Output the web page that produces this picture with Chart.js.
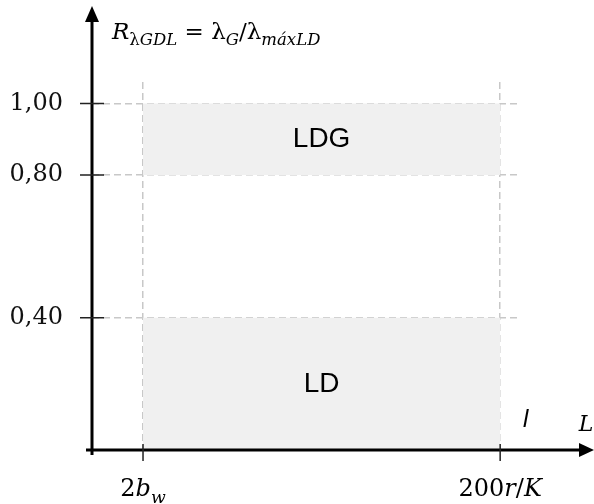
<!DOCTYPE html>
<html>
<head>
<meta charset="utf-8">
<script src="https://cdn.jsdelivr.net/npm/chart.js@4.4.1/dist/chart.umd.min.js"></script>
<style>
  html, body { margin: 0; padding: 0; background: #fff; }
  #wrap { width: 594px; height: 504px; }
</style>
</head>
<body>
<div id="wrap"><canvas id="chart" width="594" height="504"></canvas></div>
<script>
// chart values
const xTickValues = [1, 8];
const xTickLabels = ['2b_{w}', '200r/K'];
const yTickValues = [0.40, 0.80, 1.00];
const yTickLabels = ['0,40', '0,80', '1,00'];
const regionX = [1, 8];
const ldTop = [0.40, 0.40];
const ldgBottom = [0.80, 0.80];
const ldgTop = [1.00, 1.00];
const regionNames = ['LD', 'LDG'];
const yAxisTitle = 'R_{λGDL} = λ_{G}/λ_{máxLD}';
const xAxisTitle = 'L';
const zoneLabel = 'l';

const MATH_FONT = '"DejaVu Serif", serif';
const SANS_FONT = '"Liberation Sans", Arial, sans-serif';

// draws a tiny math string: letters italic, _{..} as subscript
function drawMath(ctx, str, x, y, size, align) {
  const parts = [];
  let i = 0;
  while (i < str.length) {
    if (str[i] === '_' && str[i + 1] === '{') {
      const j = str.indexOf('}', i);
      for (const ch of str.slice(i + 2, j)) parts.push({ ch, sub: true });
      i = j + 1;
    } else {
      parts.push({ ch: str[i], sub: false });
      i++;
    }
  }
  const fontOf = (p) => {
    const it = /[A-Za-zá]/.test(p.ch) ? 'italic ' : '';
    return it + (p.sub ? size * 0.72 : size) + 'px ' + MATH_FONT;
  };
  let total = 0;
  parts.forEach((p) => {
    ctx.font = fontOf(p);
    p.w = ctx.measureText(p.ch).width;
    total += p.w;
  });
  let cx = align === 'center' ? x - total / 2 : x;
  ctx.textAlign = 'left';
  ctx.textBaseline = 'alphabetic';
  parts.forEach((p) => {
    ctx.font = fontOf(p);
    ctx.fillText(p.ch, cx, p.sub ? y + size * 0.28 : y);
    cx += p.w;
  });
}

const axesPlugin = {
  id: 'axesPlugin',
  afterDraw(chart) {
    const ctx = chart.ctx;
    const xs = chart.scales.x;
    const ys = chart.scales.y;
    const area = chart.chartArea;
    const ox = area.left;
    const oy = area.bottom;
    ctx.save();
    ctx.fillStyle = '#000';
    ctx.strokeStyle = '#000';

    // axis lines with arrows
    ctx.lineWidth = 3;
    ctx.beginPath();
    ctx.moveTo(ox, oy + 5);
    ctx.lineTo(ox, 20);
    ctx.moveTo(ox - 6, oy);
    ctx.lineTo(chart.width - 12, oy);
    ctx.stroke();
    ctx.beginPath();
    ctx.moveTo(ox, 6);
    ctx.lineTo(ox - 7, 22);
    ctx.lineTo(ox + 7, 22);
    ctx.closePath();
    ctx.fill();
    ctx.beginPath();
    ctx.moveTo(chart.width, oy);
    ctx.lineTo(chart.width - 15, oy - 7);
    ctx.lineTo(chart.width - 15, oy + 7);
    ctx.closePath();
    ctx.fill();

    // tick marks
    ctx.lineWidth = 1.5;
    ctx.strokeStyle = '#222';
    ctx.beginPath();
    yTickValues.forEach((v) => {
      const py = ys.getPixelForValue(v);
      ctx.moveTo(ox - 12, py);
      ctx.lineTo(ox + 12, py);
    });
    xTickValues.forEach((v) => {
      const px = xs.getPixelForValue(v);
      ctx.moveTo(px, oy - 6);
      ctx.lineTo(px, oy + 11);
    });
    ctx.stroke();

    // x tick labels
    xTickValues.forEach((v, k) => {
      drawMath(ctx, xTickLabels[k], xs.getPixelForValue(v), oy + 46, 24, 'center');
    });

    // axis titles
    drawMath(ctx, yAxisTitle, ox + 20, 39, 23, 'left');
    drawMath(ctx, xAxisTitle, chart.width - 8, oy - 19, 22, 'center');

    ctx.font = 'italic 24px ' + SANS_FONT;
    ctx.textAlign = 'center';
    ctx.textBaseline = 'alphabetic';
    ctx.fillText(zoneLabel, xs.getPixelForValue(8.5), oy - 23);

    // region labels
    ctx.font = '28px ' + SANS_FONT;
    ctx.textBaseline = 'middle';
    const cx = xs.getPixelForValue((regionX[0] + regionX[1]) / 2);
    ctx.fillText(regionNames[0], cx, ys.getPixelForValue((ys.min + ldTop[0]) / 2));
    ctx.fillText(regionNames[1], cx, ys.getPixelForValue((ldgBottom[0] + ldgTop[0]) / 2));
    ctx.restore();
  }
};

const pts = (ys) => regionX.map((x, k) => ({ x, y: ys[k] }));
const flat = { borderWidth: 0, pointRadius: 0, backgroundColor: '#f0f0f0', tension: 0 };

new Chart(document.getElementById('chart'), {
  type: 'line',
  data: {
    datasets: [
      { ...flat, label: regionNames[0], data: pts(ldTop), fill: 'start' },
      { ...flat, label: 'LDG low', data: pts(ldgBottom), fill: false },
      { ...flat, label: regionNames[1], data: pts(ldgTop), fill: '-1' },
    ],
  },
  options: {
    responsive: false,
    animation: false,
    devicePixelRatio: 1,
    layout: { padding: { top: 82, right: 77, left: 0, bottom: 0 } },
    plugins: { legend: { display: false }, tooltip: { enabled: false } },
    scales: {
      x: {
        type: 'linear',
        min: 0,
        max: 8.33,
        afterBuildTicks: (s) => { s.ticks = xTickValues.map((value) => ({ value })); },
        afterFit: (s) => { s.height = 54; },
        ticks: { display: false },
        grid: { color: '#c8c8c8', lineWidth: 1.5, drawTicks: false },
        border: { display: false, dash: [7, 4] },
      },
      y: {
        type: 'linear',
        min: 0.03,
        max: 1.06,
        afterBuildTicks: (s) => { s.ticks = yTickValues.map((value) => ({ value })); },
        afterFit: (s) => { s.width = 92; },
        ticks: {
          padding: 29,
          color: '#111',
          font: { family: 'DejaVu Serif', size: 24 },
          callback: (v) => yTickLabels[yTickValues.indexOf(v)],
        },
        grid: { color: '#c8c8c8', lineWidth: 1.5, drawTicks: false },
        border: { display: false, dash: [7, 4] },
      },
    },
  },
  plugins: [axesPlugin],
});
</script>
</body>
</html>
